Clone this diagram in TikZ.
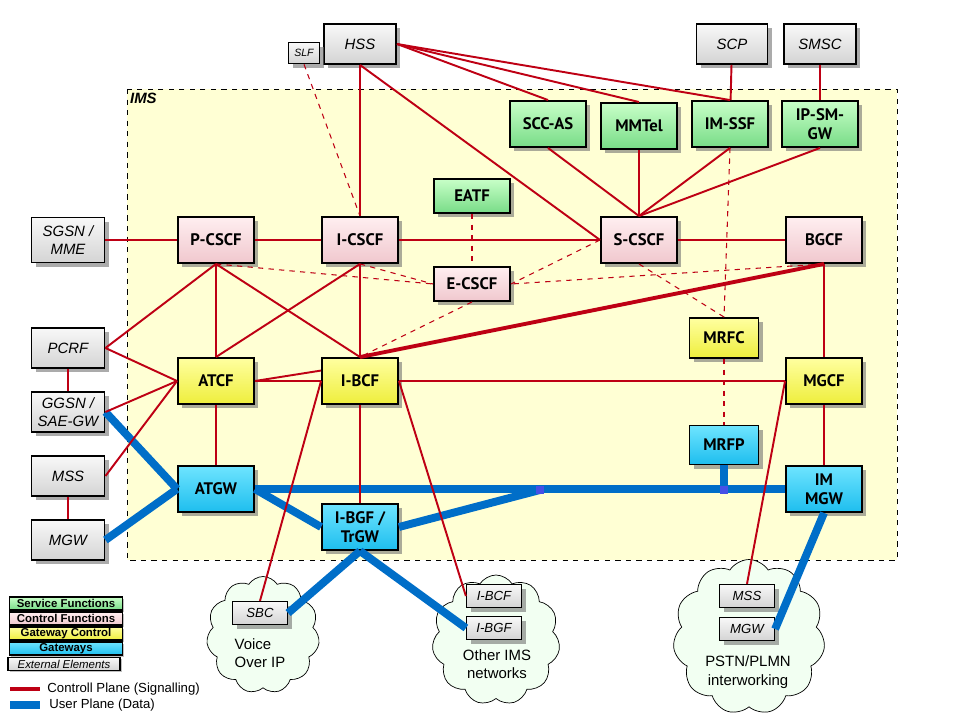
\documentclass[tikz,border=0pt]{standalone}
\usepackage{fontspec}
\setmainfont{Liberation Sans}
\newfontfamily\boxfont{PT Sans}
\usetikzlibrary{shadows,shapes.symbols}

\definecolor{sigred}{RGB}{190,0,20}
\definecolor{usrblue}{RGB}{0,110,200}
\definecolor{imsbg}{RGB}{255,255,212}
\definecolor{cloudfill}{RGB}{242,255,242}
\definecolor{svctop}{RGB}{200,255,200}
\definecolor{svcbot}{RGB}{120,220,135}
\definecolor{ctltop}{RGB}{255,238,240}
\definecolor{ctlbot}{RGB}{240,200,206}
\definecolor{gwctop}{RGB}{255,255,160}
\definecolor{gwcbot}{RGB}{238,238,60}
\definecolor{gwtop}{RGB}{110,228,255}
\definecolor{gwbot}{RGB}{30,190,238}
\definecolor{exttop}{RGB}{248,248,248}
\definecolor{extbot}{RGB}{212,212,212}
\definecolor{jointblue}{RGB}{70,80,230}

\begin{document}
\begin{tikzpicture}[x=0.02cm,y=-0.02cm,
  box/.style={draw,line width=1.1pt,minimum width=1.52cm,minimum height=0.92cm,align=center,inner sep=1pt,
    drop shadow={shadow xshift=2.4pt,shadow yshift=-2.4pt,fill=black!55,opacity=0.6}},
  ims/.style={box,font=\boxfont\bfseries\fontsize{9.5}{11}\selectfont},
  svc/.style={ims,top color=svctop,bottom color=svcbot},
  ctl/.style={ims,top color=ctltop,bottom color=ctlbot},
  gwc/.style={ims,top color=gwctop,bottom color=gwcbot},
  gw/.style={ims,top color=gwtop,bottom color=gwbot},
  ext/.style={box,font=\itshape\fontsize{8.5}{10.5}\selectfont,top color=exttop,bottom color=extbot},
  small/.style={ext,line width=0.7pt,minimum width=1.1cm,minimum height=0.46cm,font=\itshape\fontsize{7.5}{9}\selectfont},
  cloudbox/.style={cloud,cloud puffs=11,cloud puff arc=115,aspect=1,draw,thin,fill=cloudfill,inner sep=0pt},
  cloudtxt/.style={font=\fontsize{8.5}{10.5}\selectfont},
  lgd/.style={draw,line width=0.8pt,minimum width=2.26cm,minimum height=0.26cm,inner sep=0pt,
    font=\bfseries\fontsize{6.5}{7}\selectfont,drop shadow={shadow xshift=1pt,shadow yshift=-1pt,fill=black!50,opacity=0.5}},
  sig/.style={sigred,line width=1.1pt},
  sigd/.style={sigred,line width=0.6pt,dashed},
  usr/.style={usrblue,line width=4.5pt}]
\useasboundingbox (0,0) rectangle (959,719);

\draw[dashed,fill=imsbg] (127,89) rectangle (897,560);
\node[anchor=north west,inner sep=1pt,font=\itshape\bfseries\fontsize{8.5}{10}\selectfont] (imslbl) at (128,91) {IMS};

\node[cloudbox,minimum width=2.26cm,minimum height=2.34cm] (voip) at (263,635) {};
\node[cloudbox,minimum width=2.56cm,minimum height=2.6cm] (oims) at (496,640) {};
\node[cloudbox,minimum width=3.04cm,minimum height=3.1cm] (pstn) at (749,637) {};
\node[cloudtxt,align=left] (voiptxt) at (260,653) {Voice\\Over IP};
\node[cloudtxt,align=center] (oimstxt) at (497,664) {Other IMS\\networks};
\node[cloudtxt,align=center] (pstntxt) at (748,672) {PSTN/PLMN\\interworking};

\node[ext,minimum width=1.44cm,minimum height=0.8cm] (hss) at (360,44) {HSS};
\node[ext,line width=0.9pt,minimum width=0.62cm,minimum height=0.42cm,font=\itshape\fontsize{6}{7}\selectfont] (slf) at (304,53) {SLF};
\node[ext,minimum width=1.42cm,minimum height=0.8cm] (scp) at (732,44) {SCP};
\node[ext,minimum width=1.44cm,minimum height=0.8cm] (smsc) at (820,44) {SMSC};

\node[svc] (sccas) at (548,124) {SCC-AS};
\node[svc] (mmtel) at (639,126) {MMTel};
\node[svc] (imssf) at (730,124) {IM-SSF};
\node[svc] (ipsmgw) at (820,124) {IP-SM-\\GW};
\node[svc,minimum height=0.68cm] (eatf) at (472,196) {EATF};

\node[ext,minimum width=1.46cm,minimum height=0.9cm] (sgsn) at (68,240) {SGSN /\\MME};
\node[ctl] (pcscf) at (216,240) {P-CSCF};
\node[ctl] (icscf) at (360,240) {I-CSCF};
\node[ctl] (scscf) at (639,240) {S-CSCF};
\node[ctl] (bgcf) at (824,240) {BGCF};
\node[ctl,minimum height=0.68cm] (ecscf) at (472,284) {E-CSCF};

\node[ext,minimum width=1.46cm,minimum height=0.8cm] (pcrf) at (68,348) {PCRF};
\node[gwc,minimum width=1.38cm,minimum height=0.8cm] (mrfc) at (724,338) {MRFC};
\node[gwc] (atcf) at (216,381) {ATCF};
\node[gwc] (ibcf) at (360,381) {I-BCF};
\node[gwc] (mgcf) at (824,381) {MGCF};
\node[ext,minimum width=1.46cm,minimum height=0.8cm] (ggsn) at (68,412) {GGSN /\\SAE-GW};
\node[gw,minimum width=1.38cm,minimum height=0.78cm] (mrfp) at (724,445) {MRFP};
\node[ext,minimum width=1.46cm,minimum height=0.8cm] (mss) at (68,476) {MSS};
\node[gw] (atgw) at (216,489) {ATGW};
\node[gw] (immgw) at (824,489) {IM\\MGW};
\node[gw] (ibgf) at (360,527) {I-BGF /\\TrGW};
\node[ext,minimum width=1.46cm,minimum height=0.8cm] (mgw) at (68,540) {MGW};

\node[small] (sbc) at (260,613) {SBC};
\node[small] (oibcf) at (494,596) {I-BCF};
\node[small] (oibgf) at (494,628) {I-BGF};
\node[small] (pmss) at (747,596) {MSS};
\node[small] (pmgw) at (747,629) {MGW};

\coordinate (j1) at (540,490);
\coordinate (j2) at (724,490);

\draw[usr] (ggsn.east) -- (atgw.west);
\draw[usr] (mgw.east) -- (atgw.west);
\draw[usr] (atgw.east) -- (ibgf.west);
\draw[usr] (atgw.east) -- (immgw.west);
\draw[usr] (ibgf.east) -- (j1);
\draw[usr] (mrfp.south) -- (j2);
\draw[usr] (ibgf.south) -- (sbc.east);
\draw[usr] (ibgf.south) -- (oibgf.west);
\draw[usr] (immgw.south) -- (pmgw.east);
\foreach \j in {j1,j2}
  \fill[jointblue] ([shift={(-4,-4)}]\j) rectangle ([shift={(4,4)}]\j);

\foreach \a in {sccas,mmtel,imssf}
  \draw[sig] (hss.east) -- (\a.north);
\draw[sig] (hss) -- (icscf);
\draw[sig] (hss.south) -- (scscf.west);
\draw[sig] (scp) -- (imssf);
\draw[sig] (smsc) -- (ipsmgw);
\foreach \a in {sccas,mmtel,imssf,ipsmgw}
  \draw[sig] (\a.south) -- (scscf.north);
\draw[sig] (sgsn) -- (pcscf) -- (icscf) -- (scscf) -- (bgcf);
\draw[sig] (pcscf.south) -- (pcrf.east);
\draw[sig] (pcscf) -- (atcf);
\draw[sig] (pcscf.south) -- (ibcf.north);
\draw[sig] (icscf.south) -- (atcf.north);
\draw[sig] (icscf) -- (ibcf);
\draw[sig,line width=2.2pt] (bgcf.south) -- (ibcf.north);
\draw[sig] (bgcf) -- (mgcf);
\draw[sig] (pcrf) -- (ggsn);
\foreach \a in {pcrf,ggsn,mss}
  \draw[sig] (\a.east) -- (atcf.west);
\draw[sig] (mss) -- (mgw);
\draw[sig] (atcf.east) -- (ibcf.west);
\draw[sig] (atcf.east) -- (ibcf.165);
\draw[sig] (atcf) -- (atgw);
\draw[sig] (ibcf) -- (ibgf);
\draw[sig] (ibcf) -- (mgcf);
\draw[sig] (ibcf.east) -- (oibcf.west);
\draw[sig] (ibcf.west) -- (sbc.north);
\draw[sig] (mgcf.west) -- (pmss.north);
\draw[sig] (mgcf) -- (immgw);

\draw[sigd] (slf.south) -- (icscf.north);
\draw[sigd] (eatf) -- (ecscf);
\foreach \a in {pcscf,icscf}
  \draw[sigd] (\a.south) -- (ecscf.west);
\draw[sigd] (scscf.west) -- (ecscf.east);
\draw[sigd] (bgcf.south) -- (ecscf.east);
\draw[sigd] (ecscf.south) -- (ibcf.north);
\draw[sigd] (scscf.south) -- (mrfc.north);
\draw[sigd] (imssf.south) -- (mrfc.north);
\draw[sigd] (mrfc) -- (mrfp);

\node[lgd,top color=svctop,bottom color=svcbot] (lsvc) at (66,603.5) {Service Functions};
\node[lgd,top color=ctltop,bottom color=ctlbot] (lctl) at (66,618.5) {Control Functions};
\node[lgd,top color=gwctop,bottom color=gwcbot] (lgwc) at (66,633.5) {Gateway Control};
\node[lgd,top color=gwtop,bottom color=gwbot] (lgw) at (66,648.5) {Gateways};
\node[lgd,minimum width=2.24cm,font=\itshape\fontsize{6.5}{7}\selectfont,top color=exttop,bottom color=extbot] (lext) at (64,664) {External Elements};
\draw[sig,line width=1.8pt] (10,689) -- (40,689) node[right,text=black,font=\fontsize{7.5}{9}\selectfont] (lsig) {Controll Plane (Signalling)};
\draw[usrblue,line width=4pt] (10,705) -- (40,705) node[right,text=black,font=\fontsize{7.5}{9}\selectfont] (lusr) {User Plane (Data)};
\end{tikzpicture}
\end{document}
